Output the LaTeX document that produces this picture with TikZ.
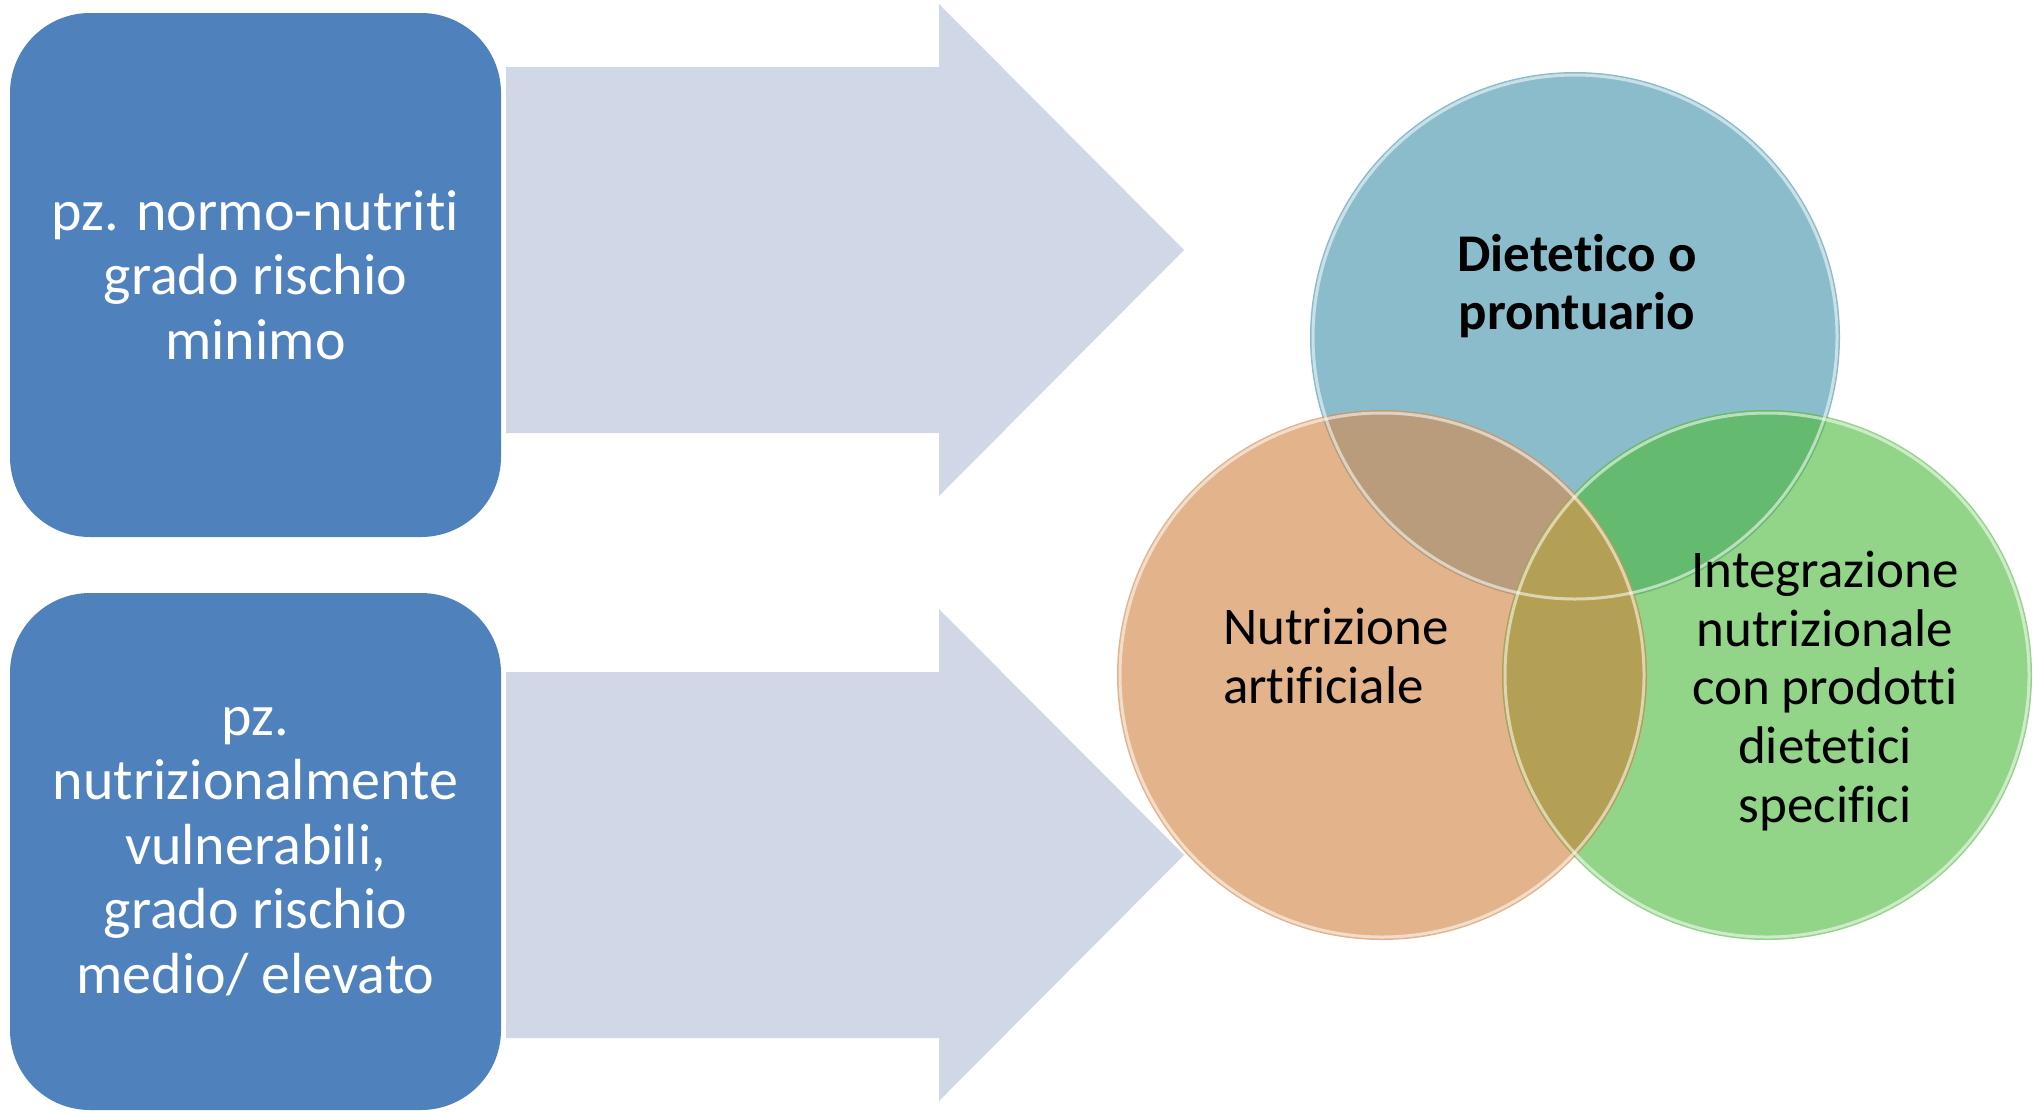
\documentclass[tikz,border=0pt]{standalone}
\usepackage{fontspec}
\setmainfont{Carlito}[Ligatures=NoCommon]
\definecolor{boxblue}{RGB}{79,129,189}
\definecolor{arrowgrey}{RGB}{208,216,232}
\definecolor{dietblue}{RGB}{139,188,203}
\definecolor{artorange}{RGB}{227,180,140}
\definecolor{intgreen}{RGB}{146,212,136}
\definecolor{blueorange}{RGB}{184,156,124}
\definecolor{bluegreen}{RGB}{100,186,110}
\definecolor{orangegreen}{RGB}{180,160,85}
\tikzset{riskbox/.style={rounded corners=40pt, fill=boxblue, text=white,
           minimum width=245.5pt, minimum height=262pt, inner sep=0pt,
           align=center, font=\fontsize{29}{32.3}\selectfont}}
\tikzset{ring/.style={circle, minimum size=265pt, inner sep=0pt, fill=#1},
         ring/.default=dietblue}
\tikzset{venn text/.style={align=center, font=\fontsize{26.5}{29.3}\selectfont}}

\begin{document}
\begin{tikzpicture}[x=0.5pt, y=-0.5pt]
    \useasboundingbox (0,0) rectangle (2044,1114);
    % the two big arrows behind everything
    \foreach \yc in {250,855}
      \fill[arrowgrey] (506,\yc-183) -- (939,\yc-183) -- (939,\yc-246)
        -- (1184,\yc) -- (939,\yc+246) -- (939,\yc+183) -- (506,\yc+183) -- cycle;
    \node[riskbox] (normo) at (255.5,275) {pz. normo-nutriti\\grado rischio\\minimo};
    \node[riskbox, minimum height=258.5pt] (vulnerabili) at (255.5,851.5)
      {pz.\\nutrizionalmente\\vulnerabili,\\grado rischio\\medio/ elevato};
    % venn circles
    \node[ring=dietblue] (dietetico) at (1575,337) {};
    \node[ring=artorange] (artificiale) at (1382,675) {};
    \node[ring=intgreen] (integrazione) at (1767,675) {};
    \begin{scope}
      \clip (dietetico.center) circle [radius=132.5pt];
      \fill[blueorange] (artificiale.center) circle [radius=132.5pt];
      \fill[bluegreen] (integrazione.center) circle [radius=132.5pt];
    \end{scope}
    \begin{scope}
      \clip (artificiale.center) circle [radius=132.5pt];
      \fill[orangegreen] (integrazione.center) circle [radius=132.5pt];
    \end{scope}
    \foreach \c in {dietetico,artificiale,integrazione}
      \draw[white, opacity=0.55, line width=1.5pt] (\c.center) circle [radius=131pt];
    %Now the labels
    \node[venn text, font=\fontsize{26.5}{29.3}\selectfont\bfseries] (dietlabel) at (1577,286)
      {Dietetico o\\prontuario};
    \node[venn text, align=left, anchor=west] (artlabel) at (1216,656)
      {Nutrizione\\artificiale};
    \node[venn text] (intlabel) at (1825,691)
      {Integrazione\\nutrizionale\\con prodotti\\dietetici\\specifici};
\end{tikzpicture}
\end{document}
